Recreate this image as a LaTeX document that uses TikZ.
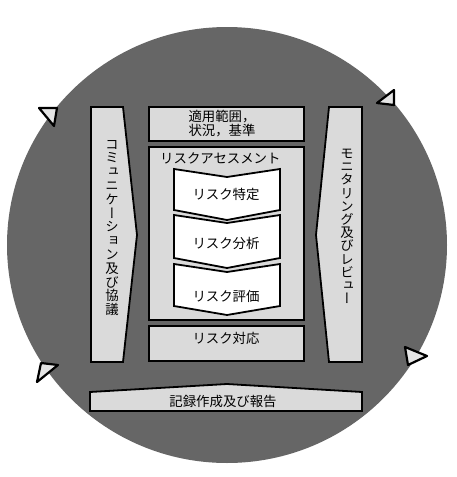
\documentclass[tikz,border=0pt]{standalone}
\usepackage{fontspec}
\setmainfont{Noto Sans CJK JP}
\newfontfamily\vjp[RawFeature=+vert]{Noto Sans CJK JP}
\definecolor{circ}{HTML}{666666}
\definecolor{boxg}{HTML}{DADADA}
\begin{document}
\begin{tikzpicture}[x=1pt,y=-1pt,
 boxs/.style={draw=black, line width=1.8pt, fill=boxg, line join=miter},
 chev/.style={draw=black, line width=1.8pt, fill=white},
 tri/.style={draw=black, line width=2.2pt, fill=gray!20, line join=round},
 lbl/.style={font=\fontsize{13.4}{13.6}\selectfont, inner sep=0pt},
 vlbl/.style={font=\vjp\fontsize{13.4}{13.6}\selectfont, inner sep=0pt, align=center}]
\useasboundingbox (0,0) rectangle (456,477);
\fill[circ] (227,245) ellipse [x radius=220, y radius=218];
% side boxes
\draw[boxs] (91,107) -- (123,107) -- (137,235) -- (123,362) -- (91,362) -- cycle;
\draw[boxs] (329,107) -- (362,107) -- (362,362) -- (329,362) -- (316,235) -- cycle;
% central boxes
\draw[boxs] (149,107) rectangle (304,141);
\draw[boxs] (149,147) rectangle (304,320);
\draw[boxs] (149,326) rectangle (304,361);
\draw[boxs] (90,392) -- (227,384) -- (362,392) -- (362,411) -- (90,411) -- cycle;
% chevrons
\draw[chev] (174,169) -- (227,177) -- (280,169) -- (280,210) -- (227,220) -- (174,210) -- cycle;
\draw[chev] (174,215) -- (227,223) -- (280,215) -- (280,258) -- (227,268) -- (174,258) -- cycle;
\draw[chev] (174,264) -- (227,272) -- (280,264) -- (280,306) -- (227,315) -- (174,306) -- cycle;
% texts
\node[lbl, align=left] (ctx) at (222,123.5) {適用範囲，\\状況，基準};
\node[lbl, anchor=west] (ra) at (160,158) {リスクアセスメント};
\node[lbl] (ri) at (226,194) {リスク特定};
\node[lbl] (rn) at (226,243) {リスク分析};
\node[lbl] (re) at (226,296) {リスク評価};
\node[lbl] (rt) at (226,338) {リスク対応};
\node[lbl] (rec) at (223,401) {記録作成及び報告};
\node[vlbl, font=\vjp\fontsize{13.4}{13.8}\selectfont] (com) at (112,228)
 {コ\\ミ\\ュ\\ニ\\ケ\\ー\\シ\\ョ\\ン\\及\\び\\協\\議};
\node[vlbl, font=\vjp\fontsize{13.4}{13.2}\selectfont] (mon) at (347,226.5)
 {モ\\ニ\\タ\\リ\\ン\\グ\\及\\び\\レ\\ビ\\ュ\\ー};
% triangles
\draw[tri] (39,108) -- (57,108) -- (54,126) -- cycle;
\draw[tri] (377,103) -- (394,90) -- (394,105) -- cycle;
\draw[tri] (405,347) -- (427,356) -- (408,365) -- cycle;
\draw[tri] (41,363) -- (58,365) -- (37,382) -- cycle;
\end{tikzpicture}
\end{document}
